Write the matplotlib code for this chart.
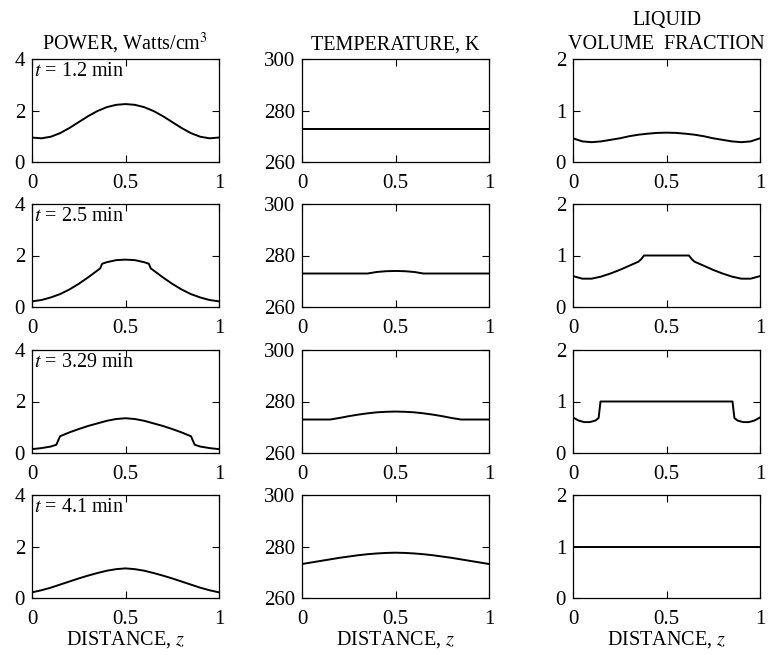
import matplotlib
matplotlib.use('Agg')
import matplotlib.pyplot as plt

plt.rcParams['font.family'] = ['Liberation Serif', 'DejaVu Serif']
plt.rcParams['mathtext.fontset'] = 'stix'
plt.rcParams['font.size'] = 14.5

# ---- data ----
z_even = [0, .05, .1, .15, .2, .25, .3, .35, .4, .45, .5,
          .55, .6, .65, .7, .75, .8, .85, .9, .95, 1]

# POWER, Watts/cm^3
power_z1 = z_even
power_1 = [0.95, 0.92, 0.98, 1.12, 1.32, 1.55, 1.78, 1.98, 2.13, 2.22, 2.25,
           2.22, 2.13, 1.98, 1.78, 1.55, 1.32, 1.12, 0.98, 0.92, 0.95]
power_z2 = [0, .05, .1, .15, .2, .25, .3, .35, .365, .375, .4, .45, .5,
            .55, .6, .625, .635, .65, .7, .75, .8, .85, .9, .95, 1]
power_2 = [0.22, 0.27, 0.37, 0.5, 0.68, 0.9, 1.15, 1.42, 1.5, 1.68, 1.74, 1.82, 1.84,
           1.82, 1.74, 1.68, 1.5, 1.42, 1.15, 0.9, 0.68, 0.5, 0.37, 0.27, 0.22]
power_z3 = [0, .05, .1, .13, .15, .2, .25, .3, .35, .4, .45, .5,
            .55, .6, .65, .7, .75, .8, .85, .87, .9, .95, 1]
power_3 = [0.15, 0.19, 0.25, 0.32, 0.65, 0.8, 0.93, 1.05, 1.15, 1.25, 1.32, 1.35,
           1.32, 1.25, 1.15, 1.05, 0.93, 0.8, 0.65, 0.32, 0.25, 0.19, 0.15]
power_z4 = z_even
power_4 = [0.22, 0.3, 0.4, 0.52, 0.64, 0.76, 0.87, 0.97, 1.06, 1.12, 1.15,
           1.12, 1.06, 0.97, 0.87, 0.76, 0.64, 0.52, 0.4, 0.3, 0.22]

# TEMPERATURE, K
temp_z1 = [0, 1]
temp_1 = [273, 273]
temp_z2 = [0, .35, .4, .45, .5, .55, .6, .65, 1]
temp_2 = [273, 273, 273.6, 273.9, 274, 273.9, 273.6, 273, 273]
temp_z3 = [0, .15, .2, .25, .3, .35, .4, .45, .5, .55, .6, .65, .7, .75, .8, .85, 1]
temp_3 = [273, 273, 273.6, 274.3, 274.9, 275.4, 275.8, 276, 276.1,
          276, 275.8, 275.4, 274.9, 274.3, 273.6, 273, 273]
temp_z4 = z_even
temp_4 = [273.2, 273.8, 274.4, 275, 275.6, 276.1, 276.6, 277, 277.3, 277.5, 277.6,
          277.5, 277.3, 277, 276.6, 276.1, 275.6, 275, 274.4, 273.8, 273.2]

# LIQUID VOLUME FRACTION
liq_z1 = z_even
liq_1 = [0.46, 0.40, 0.385, 0.40, 0.43, 0.46, 0.50, 0.53, 0.55, 0.565, 0.57,
         0.565, 0.55, 0.53, 0.50, 0.46, 0.43, 0.40, 0.385, 0.40, 0.46]
liq_z2 = [0, .05, .1, .15, .2, .25, .3, .35, .365, .38, .5,
          .62, .635, .65, .7, .75, .8, .85, .9, .95, 1]
liq_2 = [0.6, 0.55, 0.55, 0.59, 0.65, 0.72, 0.8, 0.88, 0.93, 1.0, 1.0,
         1.0, 0.93, 0.88, 0.8, 0.72, 0.65, 0.59, 0.55, 0.55, 0.6]
liq_z3 = [0, .03, .06, .09, .12, .137, .147, .5, .853, .863, .88, .91, .94, .97, 1]
liq_3 = [0.69, 0.63, 0.6, 0.6, 0.63, 0.68, 1.0, 1.0, 1.0, 0.68, 0.63, 0.6, 0.6, 0.63, 0.69]
liq_z4 = [0, 1]
liq_4 = [1, 1]

times = ['1.2', '2.5', '3.29', '4.1']
titles = ['POWER, Watts/cm$^3$', 'TEMPERATURE, K', 'LIQUID\nVOLUME  FRACTION']
ylims = [(0, 4), (260, 300), (0, 2)]
yticks = [[0, 2, 4], [260, 280, 300], [0, 1, 2]]

columns = [
    [(power_z1, power_1), (power_z2, power_2), (power_z3, power_3), (power_z4, power_4)],
    [(temp_z1, temp_1), (temp_z2, temp_2), (temp_z3, temp_3), (temp_z4, temp_4)],
    [(liq_z1, liq_1), (liq_z2, liq_2), (liq_z3, liq_3), (liq_z4, liq_4)],
]

W, H = 771, 655
fig = plt.figure(figsize=(W / 100, H / 100), dpi=100)

col_left = [32, 302, 573]
row_top = [59, 204, 350, 495]
ax_w, ax_h = 187, 103

for c in range(3):
    for r in range(4):
        ax = fig.add_axes([col_left[c] / W, 1 - (row_top[r] + ax_h) / H, ax_w / W, ax_h / H])
        zz, vv = columns[c][r]
        ax.plot(zz, vv, color='black', linewidth=1.4)
        ax.set_xlim(0, 1)
        ax.set_ylim(*ylims[c])
        ax.set_xticks([0, 0.5, 1])
        ax.set_xticklabels(['0', '0.5', '1'])
        ax.set_yticks(yticks[c])
        ax.tick_params(direction='in', top=True, right=True, length=5, width=0.8,
                       labelsize=15)
        ax.tick_params(axis='x', pad=8.5)
        ax.tick_params(axis='y', pad=5)
        for s in ax.spines.values():
            s.set_linewidth(0.9)
        if r == 0:
            ax.set_title(titles[c], fontsize=14.5, pad=7, linespacing=1.35)
        if r == 3:
            ax.set_xlabel('DISTANCE, $z$', fontsize=14.5, labelpad=0)
        if c == 0:
            ax.text(0.01, 0.97, '$t$ = ' + times[r] + ' min', transform=ax.transAxes,
                    ha='left', va='top', fontsize=14.5)

fig.savefig('out.png', dpi=100)
